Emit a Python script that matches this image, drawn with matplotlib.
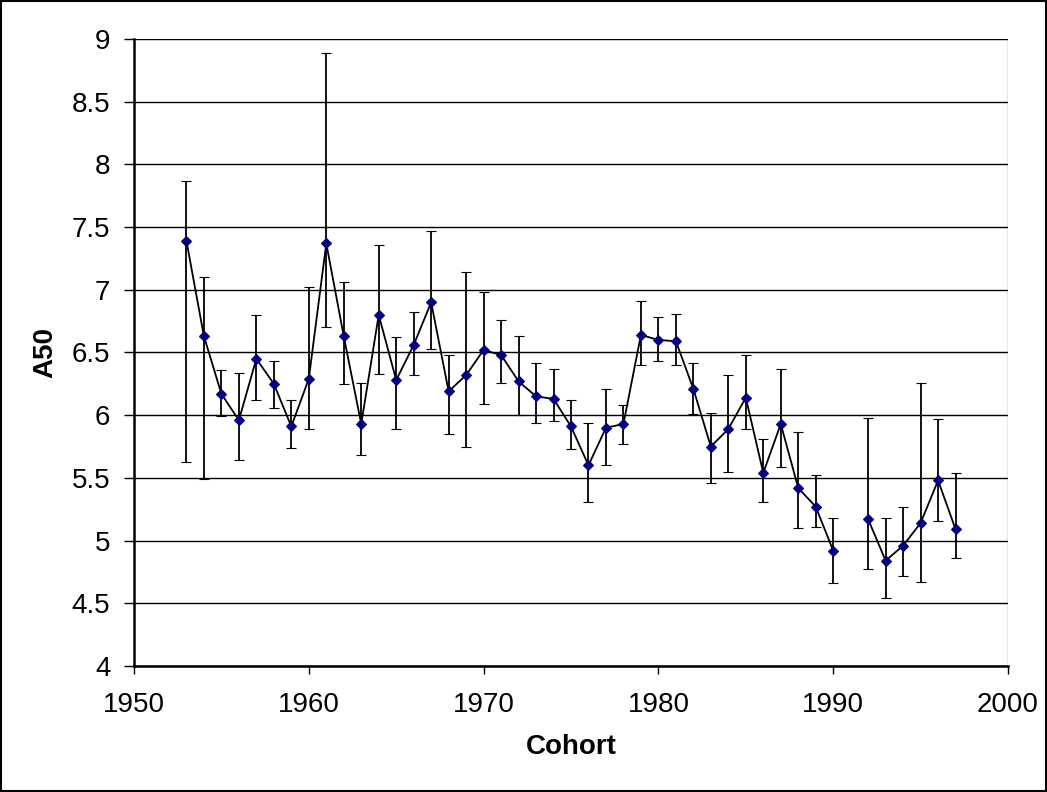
import numpy as np
import matplotlib.pyplot as plt

plt.rcParams["font.family"] = ["Liberation Sans", "DejaVu Sans"]

cohort = np.arange(1953, 1998)
a50 = [7.39, 6.63, 6.17, 5.96, 6.45, 6.25, 5.91, 6.29, 7.37, 6.63,
       5.93, 6.80, 6.28, 6.56, 6.90, 6.19, 6.32, 6.52, 6.48, 6.27,
       6.15, 6.13, 5.91, 5.60, 5.90, 5.93, 6.64, 6.60, 6.59, 6.21,
       5.75, 5.89, 6.14, 5.54, 5.93, 5.42, 5.27, 4.92, np.nan, 5.17,
       4.84, 4.96, 5.14, 5.48, 5.09]
lo = [5.63, 5.49, 5.99, 5.64, 6.12, 6.06, 5.74, 5.89, 6.70, 6.25,
      5.68, 6.33, 5.89, 6.32, 6.53, 5.85, 5.75, 6.09, 6.26, 6.00,
      5.94, 5.95, 5.73, 5.31, 5.60, 5.77, 6.40, 6.43, 6.40, 6.01,
      5.46, 5.55, 5.89, 5.31, 5.59, 5.10, 5.11, 4.66, np.nan, 4.77,
      4.54, 4.72, 4.67, 5.16, 4.86]
hi = [7.87, 7.10, 6.36, 6.34, 6.80, 6.43, 6.12, 7.02, 8.89, 7.06,
      6.26, 7.36, 6.62, 6.82, 7.47, 6.48, 7.14, 6.98, 6.76, 6.63,
      6.42, 6.37, 6.12, 5.94, 6.21, 6.08, 6.91, 6.78, 6.81, 6.42,
      6.02, 6.32, 6.48, 5.81, 6.37, 5.87, 5.52, 5.18, np.nan, 5.98,
      5.18, 5.27, 6.26, 5.97, 5.54]

a50 = np.array(a50)
yerr = [a50 - np.array(lo), np.array(hi) - a50]

fig = plt.figure(figsize=(10.47, 7.92), dpi=100)
ax = fig.add_axes([134/1047, 1-666/792, 874/1047, 627/792])

ax.errorbar(cohort, a50, yerr=yerr, color='black', linewidth=1.3,
            elinewidth=1.3, capsize=3.8, capthick=1.3,
            marker='D', markersize=4.8, markerfacecolor='#000080',
            markeredgecolor='#000080', markeredgewidth=0.8, zorder=3)

ax.set_xlim(1950, 2000)
ax.set_ylim(4, 9)
ax.set_xticks(np.arange(1950, 2001, 10))
ax.set_yticks(np.arange(4, 9.01, 0.5))
ax.set_yticklabels(['4', '4.5', '5', '5.5', '6', '6.5', '7', '7.5', '8', '8.5', '9'])
ax.yaxis.grid(True, color='black', linewidth=1)
ax.set_axisbelow(True)
ax.tick_params(direction='out', labelsize=20, width=1)
ax.tick_params(axis='x', length=6, pad=13)
ax.tick_params(axis='y', length=7, pad=10)

for s in ['top', 'right']:
    ax.spines[s].set_visible(False)
ax.spines['left'].set_linewidth(1.8)
ax.spines['bottom'].set_linewidth(1.8)
ax.axvline(2000, color='grey', linewidth=1)

ax.set_xlabel('Cohort', fontsize=20, fontweight='bold', labelpad=11)
ax.set_ylabel('A50', fontsize=20, fontweight='bold', labelpad=10)

fig.patches.append(plt.Rectangle((0.001, 0.001), 0.998, 0.998, transform=fig.transFigure,
                                 fill=False, edgecolor='black', linewidth=1.5))

plt.savefig('out.png', dpi=100)
